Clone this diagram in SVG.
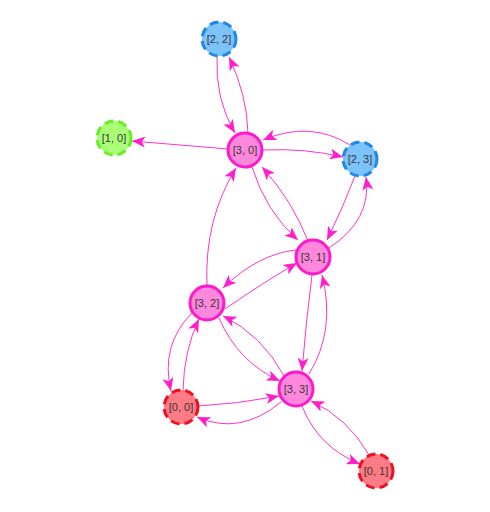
<svg xmlns="http://www.w3.org/2000/svg" width="490" height="512" viewBox="0 0 490 512">
<defs>
<marker id="ah" viewBox="0 0 12 10" refX="12" refY="5" markerWidth="14" markerHeight="11" orient="auto" markerUnits="userSpaceOnUse">
<path d="M0,0 L12,5 L0,10 L3,5 z" fill="#ff1fcc"/>
</marker>
<style>
.e{fill:none;stroke:#ff33cc;stroke-width:1;marker-end:url(#ah)}
.n circle{stroke-width:3}
.m circle{fill:#ff88dd;stroke:#ff19cc}
.b circle{fill:#7cc2fb;stroke:#1e88e5;stroke-dasharray:9 5}
.g circle{fill:#aaff77;stroke:#66ee22;stroke-dasharray:9 5}
.r circle{fill:#ff7b86;stroke:#ee1122;stroke-dasharray:9 5}
text{font-family:"Liberation Sans",Arial,sans-serif;font-size:11px;fill:#343434;text-anchor:middle;dominant-baseline:central}
</style>
</defs>
<rect width="490" height="512" fill="#ffffff"/>
<g id="edges">
<path class="e" d="M217,56 Q215,100 235,133"/>
<path class="e" d="M248,133 Q247,95 229,57"/>
<path class="e" d="M228,149 L132,141"/>
<path class="e" d="M263,150 Q305,148 343,157"/>
<path class="e" d="M350,145 Q310,120 263,140"/>
<path class="e" d="M252,167 Q266,212 298,240"/>
<path class="e" d="M308,241 Q292,200 262,167"/>
<path class="e" d="M355,176 Q342,210 327,240"/>
<path class="e" d="M329,248 Q372,220 366,177"/>
<path class="e" d="M207,286 Q204,220 236,168"/>
<path class="e" d="M296,250 Q258,254 223,288"/>
<path class="e" d="M225,309 Q264,282 297,263"/>
<path class="e" d="M312,275 Q306,322 302,371"/>
<path class="e" d="M309,374 Q336,330 322,275"/>
<path class="e" d="M219,318 Q238,362 280,381"/>
<path class="e" d="M284,376 Q262,335 223,316"/>
<path class="e" d="M192,313 Q160,345 171,391"/>
<path class="e" d="M183,390 Q184,350 199,319"/>
<path class="e" d="M198,406 Q238,404 279,396"/>
<path class="e" d="M281,402 Q240,436 197,417"/>
<path class="e" d="M302,406 Q318,447 360,464"/>
<path class="e" d="M369,455 Q348,418 311,401"/>
</g>
<g id="n22" class="n b"><circle cx="219" cy="39" r="17"/><text x="219" y="39">[2, 2]</text></g>
<g id="n10" class="n g"><circle cx="114" cy="138" r="17"/><text x="114" y="138">[1, 0]</text></g>
<g id="n30" class="n m"><circle cx="245" cy="150" r="17"/><text x="245" y="150">[3, 0]</text></g>
<g id="n23" class="n b"><circle cx="360" cy="159" r="17"/><text x="360" y="159">[2, 3]</text></g>
<g id="n31" class="n m"><circle cx="313" cy="257" r="17"/><text x="313" y="257">[3, 1]</text></g>
<g id="n32" class="n m"><circle cx="207" cy="303" r="17"/><text x="207" y="303">[3, 2]</text></g>
<g id="n33" class="n m"><circle cx="296" cy="389" r="17"/><text x="296" y="389">[3, 3]</text></g>
<g id="n00" class="n r"><circle cx="181" cy="407" r="17"/><text x="181" y="407">[0, 0]</text></g>
<g id="n01" class="n r"><circle cx="376" cy="471" r="17"/><text x="376" y="471">[0, 1]</text></g>
</svg>
